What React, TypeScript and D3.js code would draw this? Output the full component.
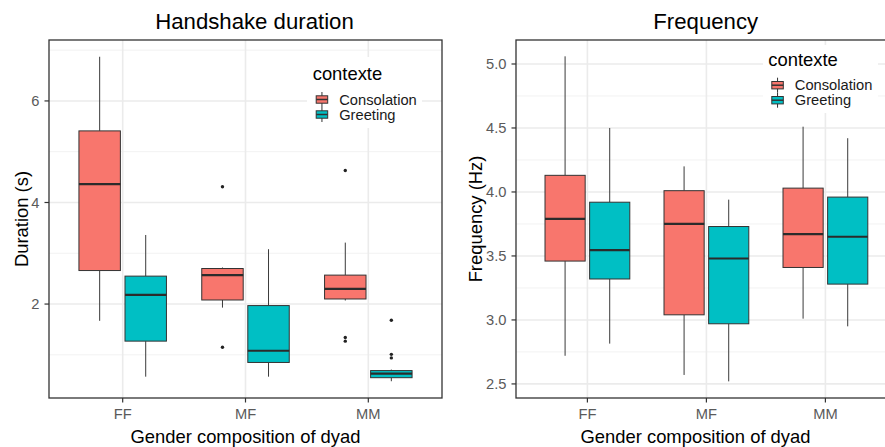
import React from "react";
import * as d3 from "d3";

const groups = ["FF", "MF", "MM"];
const contexts = ["Consolation", "Greeting"];
const colors = ["#F8766D", "#00BFC4"];

// [lowerWhisker, q1, median, q3, upperWhisker] per group
const durationConsolation = [
  [1.67, 2.66, 4.36, 5.41, 6.87],
  [1.93, 2.08, 2.57, 2.70, 2.72],
  [2.07, 2.10, 2.30, 2.57, 3.21],
];
const durationGreeting = [
  [0.57, 1.27, 2.18, 2.55, 3.36],
  [0.57, 0.85, 1.08, 1.97, 3.08],
  [0.48, 0.55, 0.63, 0.69, 0.71],
];
const durationOutliersConsolation = [[], [4.31, 1.15], [4.63, 1.34, 1.27]];
const durationOutliersGreeting = [[], [], [1.68, 1.01, 0.94]];

const freqConsolation = [
  [2.72, 3.46, 3.79, 4.13, 5.06],
  [2.57, 3.04, 3.75, 4.01, 4.2],
  [3.01, 3.41, 3.67, 4.03, 4.51],
];
const freqGreeting = [
  [2.815, 3.32, 3.545, 3.92, 4.5],
  [2.52, 2.97, 3.48, 3.73, 3.94],
  [2.95, 3.28, 3.65, 3.96, 4.42],
];
const freqOutliersConsolation = [[], [], []];
const freqOutliersGreeting = [[], [], []];

const durationMajor = [2, 4, 6];
const durationMinor = [1, 3, 5, 7];
const durationTickLabels = ["2", "4", "6"];
const freqMajor = [2.5, 3.0, 3.5, 4.0, 4.5, 5.0];
const freqMinor = [2.75, 3.25, 3.75, 4.25, 4.75];
const freqTickLabels = ["2.5", "3.0", "3.5", "4.0", "4.5", "5.0"];

const FONT = "'Liberation Sans', Arial, sans-serif";

type PanelProps = {
  title: string;
  yTitle: string;
  left: number;
  right: number;
  top: number;
  bottom: number;
  yDomain: [number, number];
  major: number[];
  minor: number[];
  tickLabels: string[];
  stats: number[][][];
  outliers: number[][][];
  titleX: number;
  yTitleX: number;
  legendX: number;
  legendY: number;
  legendBg: [number, number, number, number];
};

function Panel(p: PanelProps) {
  const x = d3.scalePoint<string>().domain(groups).range([p.left, p.right]).padding(0.6);
  const step = x.step();
  const y = d3.scaleLinear().domain(p.yDomain).range([p.bottom, p.top]);
  const dodge = d3
    .scaleBand<string>()
    .domain(contexts)
    .range([-0.375 * step, 0.375 * step]);
  const boxW = dodge.bandwidth() * 0.9;
  const clipId = "clip" + p.left;
  return (
    <g>
      <defs>
        <clipPath id={clipId}>
          <rect x={p.left} y={p.top} width={p.right - p.left} height={p.bottom - p.top} />
        </clipPath>
      </defs>
      <rect x={p.left} y={p.top} width={p.right - p.left} height={p.bottom - p.top} fill="#fff" />
      {p.minor.map((v) => (
        <line key={"mi" + v} x1={p.left} x2={p.right} y1={y(v)} y2={y(v)} stroke="#F2F2F2" strokeWidth={1} />
      ))}
      {p.major.map((v) => (
        <line key={"ma" + v} x1={p.left} x2={p.right} y1={y(v)} y2={y(v)} stroke="#EBEBEB" strokeWidth={1.6} />
      ))}
      {groups.map((g) => (
        <line key={"vg" + g} x1={x(g)} x2={x(g)} y1={p.top} y2={p.bottom} stroke="#EBEBEB" strokeWidth={1.6} />
      ))}
      {/* legend background */}
      <rect x={p.legendBg[0]} y={p.legendBg[1]} width={p.legendBg[2]} height={p.legendBg[3]} fill="#fff" />
      <g clipPath={`url(#${clipId})`}>
        {contexts.map((c, ci) =>
          groups.map((g, gi) => {
            const s = p.stats[ci][gi];
            const cx = (x(g) as number) + (dodge(c) as number) + dodge.bandwidth() / 2;
            return (
              <g key={c + g}>
                <line x1={cx} x2={cx} y1={y(s[4])} y2={y(s[3])} stroke="#3a3a3a" strokeWidth={1} />
                <line x1={cx} x2={cx} y1={y(s[1])} y2={y(s[0])} stroke="#3a3a3a" strokeWidth={1} />
                <rect
                  x={cx - boxW / 2}
                  y={y(s[3])}
                  width={boxW}
                  height={y(s[1]) - y(s[3])}
                  fill={colors[ci]}
                  stroke="#333"
                  strokeWidth={1}
                />
                <line x1={cx - boxW / 2} x2={cx + boxW / 2} y1={y(s[2])} y2={y(s[2])} stroke="#2b2b2b" strokeWidth={2.2} />
                {p.outliers[ci][gi].map((o, oi) => (
                  <circle key={oi} cx={cx} cy={y(o)} r={1.7} fill="#222" />
                ))}
              </g>
            );
          })
        )}
      </g>
      <rect x={p.left} y={p.top} width={p.right - p.left} height={p.bottom - p.top} fill="none" stroke="#333" strokeWidth={1.3} />
      {/* y axis */}
      {p.major.map((v, i) => (
        <g key={"yt" + v}>
          <line x1={p.left - 4.5} x2={p.left} y1={y(v)} y2={y(v)} stroke="#333" strokeWidth={1.2} />
          <text x={p.left - 9.5} y={y(v)} dy="0.36em" textAnchor="end" fontSize={14.7} fill="#5a5a5a" fontFamily={FONT}>
            {p.tickLabels[i]}
          </text>
        </g>
      ))}
      {/* x axis */}
      {groups.map((g) => (
        <g key={"xt" + g}>
          <line x1={x(g)} x2={x(g)} y1={p.bottom} y2={p.bottom + 4.5} stroke="#333" strokeWidth={1.2} />
          <text x={x(g)} y={419} textAnchor="middle" fontSize={14.7} fill="#5a5a5a" fontFamily={FONT}>
            {g}
          </text>
        </g>
      ))}
      <text x={(p.left + Math.min(p.right, 885)) / 2 + (p.left < 100 ? 0 : -5)} y={442.5} textAnchor="middle" fontSize={18.4} fill="#000" fontFamily={FONT}>
        Gender composition of dyad
      </text>
      <text
        transform={`translate(${p.yTitleX},${(p.top + p.bottom) / 2}) rotate(-90)`}
        textAnchor="middle"
        fontSize={18.4}
        fill="#000"
        fontFamily={FONT}
      >
        {p.yTitle}
      </text>
      <text x={p.titleX} y={29.3} textAnchor="middle" fontSize={22.2} fill="#000" fontFamily={FONT}>
        {p.title}
      </text>
      {/* legend */}
      <text x={p.legendX} y={p.legendY} fontSize={18.4} fill="#000" fontFamily={FONT}>
        contexte
      </text>
      {contexts.map((c, ci) => {
        const cy = p.legendY + 19.5 + ci * 15;
        const kx = p.legendX + 3.5;
        return (
          <g key={"lg" + c}>
            <line x1={kx + 5.75} x2={kx + 5.75} y1={cy - 7.5} y2={cy + 7.5} stroke="#333" strokeWidth={1} />
            <rect x={kx} y={cy - 3.7} width={11.5} height={7.4} fill={colors[ci]} stroke="#333" strokeWidth={1} />
            <line x1={kx} x2={kx + 11.5} y1={cy} y2={cy} stroke="#333" strokeWidth={1.5} />
            <text x={p.legendX + 26.5} y={cy} dy="0.36em" fontSize={14.7} fill="#1a1a1a" fontFamily={FONT}>
              {c}
            </text>
          </g>
        );
      })}
    </g>
  );
}

export default function App() {
  return (
    <svg
      width={885}
      height={447}
      style={{ position: "absolute", left: 0, top: 0, background: "#fff" }}
    >
      <rect width={885} height={447} fill="#fff" />
      <Panel
        title="Handshake duration"
        yTitle="Duration (s)"
        left={49}
        right={442}
        top={40}
        bottom={398}
        yDomain={[0.15, 7.2]}
        major={durationMajor}
        minor={durationMinor}
        tickLabels={durationTickLabels}
        stats={[durationConsolation, durationGreeting]}
        outliers={[durationOutliersConsolation, durationOutliersGreeting]}
        titleX={254.5}
        yTitleX={28}
        legendX={312.7}
        legendY={80}
        legendBg={[307, 57, 115, 71]}
      />
      <Panel
        title="Frequency"
        yTitle="Frequency (Hz)"
        left={516}
        right={516 + 3.2 * 119}
        top={40}
        bottom={398}
        yDomain={[2.39, 5.1875]}
        major={freqMajor}
        minor={freqMinor}
        tickLabels={freqTickLabels}
        stats={[freqConsolation, freqGreeting]}
        outliers={[freqOutliersConsolation, freqOutliersGreeting]}
        titleX={705.7}
        yTitleX={481.5}
        legendX={768.3}
        legendY={65.7}
        legendBg={[763, 45, 115, 68]}
      />
    </svg>
  );
}
